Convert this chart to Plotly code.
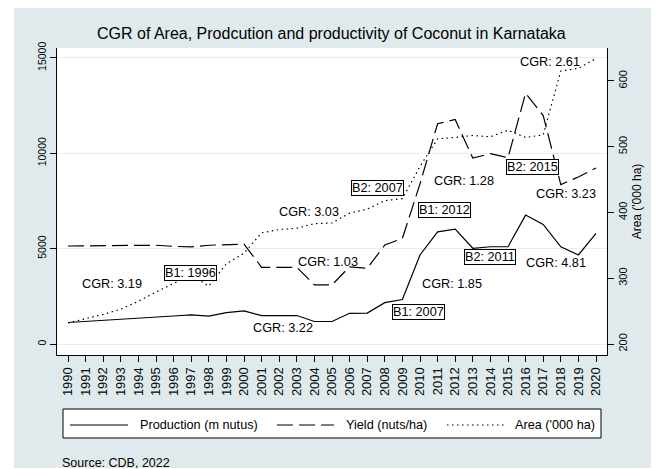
import plotly.graph_objects as go

years = list(range(1990, 2021))
production = [1130, 1180, 1230, 1280, 1340, 1410, 1470, 1530, 1463, 1650, 1740,
              1494, 1494, 1494, 1180, 1180, 1610, 1620, 2170, 2330, 4670,
              5880, 6020, 5020, 5100, 5100, 6760, 6270, 5100, 4670, 5800]
yield_ = [5140, 5150, 5160, 5170, 5170, 5180, 5120, 5090, 5180, 5200, 5240,
          4020, 4020, 4020, 3100, 3100, 4050, 3970, 5190, 5540, 8400,
          11550, 11770, 9750, 9980, 9770, 13150, 11980, 8360, 8760, 9230]
area = [232, 238, 245, 253, 265, 279, 292, 305, 288, 322, 338,
        369, 374, 376, 383, 384, 399, 405, 418, 421, 470,
        512, 514, 517, 515, 525, 514, 518, 615, 619, 634]

left_ticks = [0, 5000, 10000, 15000]
right_ticks = [200, 300, 400, 500, 600]

cgr_labels = [("CGR: 3.19", 1992.5, 3150), ("CGR: 3.03", 2003.7, 6930),
              ("CGR: 1.03", 2004.75, 4316), ("CGR: 3.22", 2002.2, 836),
              ("CGR: 1.28", 2012.5, 8548), ("CGR: 3.23", 2018.3, 7890),
              ("CGR: 2.61", 2017.4, 14766), ("CGR: 1.85", 2011.8, 3135),
              ("CGR: 4.81", 2017.7, 4264)]
break_labels = [("B1: 1996", 1996.96, 3730), ("B2: 2007", 2007.6, 8193),
                ("B1: 2012", 2011.42, 7034), ("B2: 2015", 2016.4, 9264),
                ("B1: 2007", 2009.9, 1688), ("B2: 2011", 2014.0, 4561)]

legend_names = ["Production (m nutus)", "Yield (nuts/ha)", "Area ('000 ha)"]

FONT = "Liberation Sans, Arial, sans-serif"
# translucent tint that gives a light bluish grey over white
TINT = "rgba(0,85,104,0.12)"
GRID = "#E4EDEF"

fig = go.Figure()
fig.add_trace(go.Scatter(x=years, y=production, mode="lines", name=legend_names[0],
                         line=dict(color="black", width=1.2), showlegend=False))
fig.add_trace(go.Scatter(x=years, y=yield_, mode="lines", name=legend_names[1],
                         line=dict(color="black", width=1.2, dash="16px,6px"), showlegend=False))
fig.add_trace(go.Scatter(x=years, y=area, mode="lines", name=legend_names[2], yaxis="y2",
                         line=dict(color="black", width=1.2, dash="1.5px,3.5px"), showlegend=False))

# page is offset by the browser's 8px body margin
OFF = 8
W, H = 659 - OFF, 469 - OFF
PL, PR, PT, PB = 57, 607, 48, 355          # plot area in page pixels
L, R, T, B = PL - OFF, 659 - PR, PT - OFF, 469 - PB


def px(x):
    return (x - PL) / (PR - PL)


def py(y):
    return (PB - y) / (PB - PT)


def band(x0, x1, y0, y1, color, layer="above"):
    return dict(type="rect", xref="paper", yref="paper", x0=px(x0), x1=px(x1),
                y0=py(y1), y1=py(y0), fillcolor=color, line=dict(width=0), layer=layer)


shapes = [
    # light bluish-grey graph region around the white plot area
    band(14, PL - 0.5, 8, 468, TINT),
    band(PL - 0.5, 670, 8, PT, TINT),
    band(PR + 0.5, 670, PT, 468, TINT),
    band(PL - 0.5, PR + 0.5, PB + 0.5, 468, TINT),
    # legend box
    dict(type="rect", xref="paper", yref="paper", x0=px(63), x1=px(601), y0=py(438), y1=py(409),
         fillcolor="white", line=dict(color="black", width=1), layer="above"),
]
sample_y = py(425)
for (x0, x1, dash) in [(70, 128, "solid"), (277, 334, "16px,6px"), (447, 504, "1.5px,3.5px")]:
    shapes.append(dict(type="line", xref="paper", yref="paper", x0=px(x0), x1=px(x1),
                       y0=sample_y, y1=sample_y, line=dict(color="black", width=1.2, dash=dash)))

annotations = []
for txt, x, y in cgr_labels:
    annotations.append(dict(text=txt, x=x, y=y, xref="x", yref="y", showarrow=False,
                            font=dict(family=FONT, size=12.7, color="black"),
                            xanchor="center", yanchor="middle"))
for txt, x, y in break_labels:
    annotations.append(dict(text=txt, x=x, y=y, xref="x", yref="y", showarrow=False,
                            font=dict(family=FONT, size=12.7, color="black"),
                            xanchor="center", yanchor="middle", bgcolor="white",
                            bordercolor="black", borderwidth=1, borderpad=0))
for txt, x in zip(legend_names, [138, 344, 513]):
    annotations.append(dict(text=txt, x=px(x), y=sample_y, xref="paper", yref="paper",
                            showarrow=False, xanchor="left", yanchor="middle",
                            font=dict(family=FONT, size=12.7, color="black")))
annotations.append(dict(text="Source: CDB, 2022", x=px(60), y=py(463), xref="paper", yref="paper",
                        showarrow=False, xanchor="left", yanchor="middle",
                        font=dict(family=FONT, size=12.5, color="black")))
annotations.append(dict(text="CGR of Area, Prodcution and productivity of Coconut in Karnataka",
                        x=px(331), y=py(34), xref="paper", yref="paper", showarrow=False,
                        xanchor="center", yanchor="middle",
                        font=dict(family=FONT, size=16, color="black")))

fig.update_layout(
    width=W, height=H,
    margin=dict(l=L, r=R, t=T, b=B, autoexpand=False),
    paper_bgcolor="white", plot_bgcolor="white",
    font=dict(family=FONT, color="black"),
    shapes=shapes, annotations=annotations,
    showlegend=False,
    xaxis=dict(range=[1989.375, 2020.625], tickmode="array", tickvals=years,
               ticktext=[str(y) for y in years], tickangle=-90,
               ticks="outside", ticklen=6, tickcolor="black", tickwidth=1,
               showline=True, linecolor="black", linewidth=1, showgrid=False, zeroline=False,
               tickfont=dict(family=FONT, size=13, color="black")),
    yaxis=dict(range=[-575, 15520], tickmode="array", tickvals=left_ticks,
               ticktext=[str(v) for v in left_ticks], tickangle=-90,
               ticks="outside", ticklen=6, tickcolor="black", tickwidth=1,
               showline=True, linecolor="black", linewidth=1,
               showgrid=True, gridcolor=GRID, gridwidth=1, zeroline=False,
               tickfont=dict(family=FONT, size=10.5, color="black")),
    yaxis2=dict(range=[183.3, 650], overlaying="y", side="right", tickmode="array",
                tickvals=right_ticks, ticktext=[str(v) for v in right_ticks], tickangle=-90,
                ticks="outside", ticklen=6, tickcolor="black", tickwidth=1,
                showline=True, linecolor="black", linewidth=1, showgrid=False, zeroline=False,
                title=dict(text="Area ('000 ha)", font=dict(family=FONT, size=12, color="black"),
                           standoff=4),
                tickfont=dict(family=FONT, size=11, color="black")),
)

fig.write_html("out.html")
